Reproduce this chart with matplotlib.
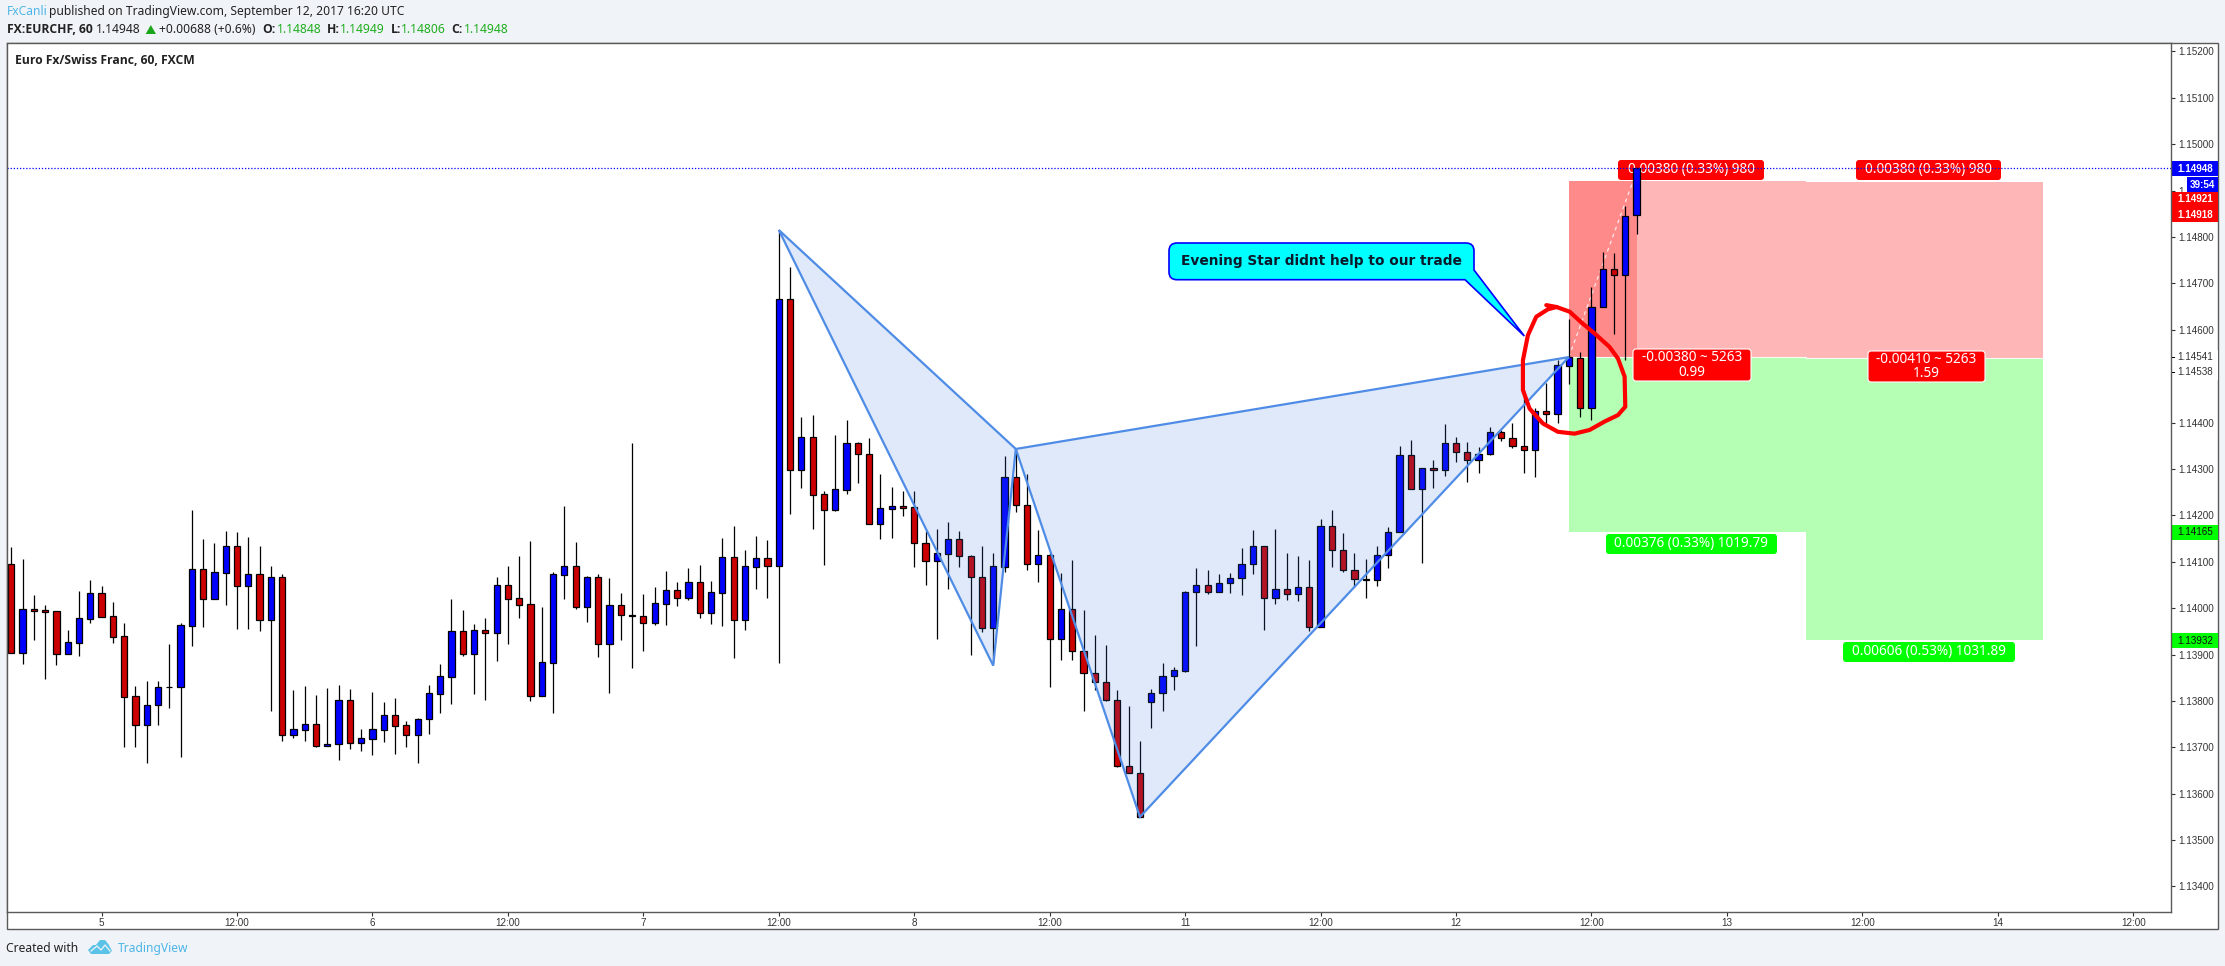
import numpy as np
import matplotlib
matplotlib.use("Agg")
import matplotlib.pyplot as plt
from matplotlib.patches import FancyBboxPatch, PathPatch, Polygon, Rectangle
from matplotlib.path import Path
from matplotlib.transforms import Affine2D

W, H = 2225, 966
POINT = 1e-5

opens = [114094,113904,113999,113995,113993,113902,113925,113977,114032,113982,
113939,113810,113749,113792,113831,113830,113962,114085,114020,114076,
114133,114048,114073,113975,114066,113727,113738,113751,113703,113708,
113801,113710,113718,113738,113769,113747,113727,113761,113815,113852,
113950,113902,113952,113947,114049,114021,114008,113811,113882,114072,
114090,114003,114068,113923,114006,113986,113984,113968,114009,114040,
114022,114057,113990,114033,114111,113975,114089,114109,114091,114667,
114298,114368,114245,114212,114255,114355,114333,114182,114214,114221,
114217,114141,114102,114117,114150,114113,114067,113958,114089,114282,
114223,114096,114114,113933,113997,113907,113861,113840,113801,113659,
113644,113797,113818,113853,113865,114034,114049,114034,114055,114064,
114094,114133,114021,114042,114030,114045,113960,114178,114126,114083,
114063,114061,114114,114165,114329,114257,114303,114298,114355,114337,
114320,114333,114379,114366,114350,114341,114424,114419,114522,114538,
114432,114648,114730,114719,114848]
highs = [114131,114106,114028,114006,113993,113953,114037,114060,114047,114013,
113967,113832,113843,113843,113922,113967,114211,114149,114140,114166,
114164,114153,114134,114091,114073,113823,113832,113812,113828,113834,
113825,113739,113819,113797,113806,113756,113764,113834,113879,114019,
113996,113966,113978,114067,114091,114112,114144,114002,114077,114220,
114142,114070,114073,114065,114032,114356,114030,114045,114080,114056,
114086,114093,114058,114151,114177,114125,114155,114147,114815,114735,
114412,114416,114252,114373,114405,114359,114366,114289,114261,114252,
114252,114166,114170,114185,114166,114114,114134,114119,114328,114340,
114288,114168,114119,114075,114103,113996,113942,113920,113823,113789,
113713,113825,113881,113872,114036,114086,114083,114073,114075,114129,
114168,114134,114170,114119,114112,114103,114192,114211,114162,114119,
114106,114134,114175,114349,114362,114303,114319,114397,114369,114358,
114347,114390,114384,114399,114470,114431,114485,114534,114623,114551,
114692,114767,114765,114866,114949]
lows = [113904,113879,113931,113847,113877,113902,113897,113968,113981,113925,
113701,113701,113666,113748,113784,113679,113918,113959,114020,114006,
113955,113955,113950,113778,113713,113720,113713,113700,113703,113672,
113696,113692,113683,113711,113685,113700,113666,113728,113774,113793,
113897,113815,113802,113886,113922,113978,113800,113811,113774,114019,
113998,113970,113894,113817,113931,113871,113907,113963,113963,114004,
114017,113978,113966,113961,113892,113953,114041,114022,113882,114203,
114259,114170,114093,114210,114246,114269,114182,114149,114151,114198,
114088,114050,113933,114041,114088,113899,113948,113881,114078,114208,
114083,114057,113830,113888,113888,113779,113823,113799,113657,113644,
113549,113741,113779,113823,113863,113918,114031,114034,114032,114028,
114073,113953,114009,114017,114015,113950,113960,114088,114078,114046,
114022,114047,114086,114165,114257,114097,114259,114284,114315,114272,
114291,114330,114360,114345,114291,114282,114399,114399,114483,114411,
114405,114648,114590,114534,114806]
closes = [113904,113999,113994,113992,113902,113926,113978,114032,113981,113938,
113809,113749,113792,113831,113831,113963,114085,114020,114077,114133,
114048,114073,113975,114066,113727,113739,113751,113703,113708,113801,
113710,113719,113739,113769,113746,113727,113762,113816,113853,113950,
113902,113952,113947,114049,114020,114007,113811,113883,114073,114090,
114003,114068,113923,114006,113986,113983,113968,114010,114040,114022,
114057,113990,114034,114111,113975,114090,114109,114091,114667,114298,
114368,114244,114212,114256,114355,114333,114182,114215,114221,114216,
114141,114102,114118,114150,114113,114067,113958,114090,114282,114223,
114096,114114,113933,113997,113907,113861,113840,113801,113659,113644,
113549,113818,113853,113866,114034,114049,114034,114055,114064,114094,
114133,114021,114042,114030,114045,113960,114178,114126,114083,114063,
114061,114114,114165,114329,114257,114303,114298,114355,114337,114320,
114333,114379,114366,114350,114341,114424,114419,114523,114542,114432,
114648,114730,114719,114846,114948]

time_tick_bars = [8, 20, 32, 44, 56, 68, 80, 92, 104, 116, 128, 140, 152, 164, 176, 188]
time_tick_labels = ["5", "12:00", "6", "12:00", "7", "12:00", "8", "12:00", "11", "12:00",
                    "12", "12:00", "13", "12:00", "14", "12:00"]
price_ticks = [1.134, 1.135, 1.136, 1.137, 1.138, 1.139, 1.140, 1.141, 1.142, 1.143, 1.144,
               1.146, 1.147, 1.148, 1.149, 1.150, 1.151, 1.152]

# harmonic pattern pivots: (bar, price in points)
pattern_bars = [68, 89, 87, 100, 138]
pattern_pts = [114815, 114343, 113876, 113550, 114541]

# position tools
pos_bars = [138, 159, 180]
left_stop, left_entry, left_target = 114921, 114541, 114165
right_stop, right_entry, right_target = 114918, 114538, 113932
last_bar, last_close = 144, 114948

# hand-drawn circle
circle_bars = [136.0,136.9,138.06,139.24,140.28,141.6,142.35,142.94,143.0,142.35,141.16,139.84,
               138.5,137.03,135.7,134.52,133.93,133.93,134.37,135.11,136.14,136.9]
circle_pts = [114653,114649,114639,114613,114592,114563,114538,114499,114434,114416,114402,114384,
              114376,114380,114398,114430,114470,114534,114588,114628,114644,114649]

to_price = lambda seq: np.array(seq, dtype=float) * POINT

GREY = "#5a5a5a"
BLUE = "#0000ff"
RED = "#cc0000"
SKY = "#4db6e8"
GREEN_TXT = "#1fae1f"
TXT = "#222222"
SANS = "Noto Sans"
BOLD = "Open Sans"
TICK = "Liberation Sans"

fig = plt.figure(figsize=(W / 100, H / 100), dpi=100, facecolor="#f0f3f7")
tr = Affine2D().scale(1, -1).translate(0, H)  # reference pixels, y downward

# outer frame
L, T, R, B = 7, 43, 2171, 912
fig.add_artist(Rectangle((L, T), 2218 - L, 929 - T, transform=tr, facecolor="white",
                         edgecolor=GREY, lw=1.0, zorder=-5))
ax = fig.add_axes([L / W, 1 - B / H, (R - L) / W, (B - T) / H], facecolor="white")
ax.set_xlim(-0.38, 191.35)
ax.set_ylim(1.13345, 1.15218)
for s in ["left", "top", "right", "bottom"]:
    ax.spines[s].set_color(GREY)
    ax.spines[s].set_linewidth(1.0)
ax.yaxis.tick_right()
ax.set_yticks(price_ticks)
ax.set_yticklabels([f"{p:.5f}" for p in price_ticks], fontfamily=TICK, fontsize=7.1, color="#333333")
ax.set_xticks(time_tick_bars)
ax.set_xticklabels(time_tick_labels, fontfamily=TICK, fontsize=7.1, color="#333333")
ax.tick_params(axis="y", length=3, width=0.8, color="#333333", pad=2.2)
ax.tick_params(axis="x", length=3, width=0.8, color="#333333", pad=1.5)

# position tool zones
pb = pos_bars
ax.add_patch(Rectangle((pb[0], left_entry * POINT), pb[1] - pb[0], (left_stop - left_entry) * POINT,
                       facecolor="#ffb6b6", edgecolor="none", zorder=1))
ax.add_patch(Rectangle((pb[1], right_entry * POINT), pb[2] - pb[1], (right_stop - right_entry) * POINT,
                       facecolor="#ffb6b6", edgecolor="none", zorder=1))
ax.add_patch(Rectangle((pb[0], left_target * POINT), pb[1] - pb[0], (left_entry - left_target) * POINT,
                       facecolor="#b5ffb5", edgecolor="none", zorder=1))
ax.add_patch(Rectangle((pb[1], right_target * POINT), pb[2] - pb[1], (right_entry - right_target) * POINT,
                       facecolor="#b5ffb5", edgecolor="none", zorder=1))
ax.add_patch(Rectangle((pb[0], left_entry * POINT), last_bar - pb[0], (left_stop - left_entry) * POINT,
                       facecolor="#ff8a8a", edgecolor="none", zorder=1.1))
ax.plot(pb[:2], to_price([left_entry, left_entry]), color="#f4fff4", lw=0.8, zorder=1.2)
ax.plot(pb[1:], to_price([right_entry, right_entry]), color="#f4fff4", lw=0.8, zorder=1.2)
ax.plot([pb[0], last_bar], to_price([left_entry, left_stop + 20]), color="white", lw=0.9,
        ls=(0, (3, 3)), alpha=0.8, zorder=1.2)


def label(x0, y0, x1, y1, text, face, edge="none", z=1.5, fs=9.8, tcolor="white"):
    ax.add_patch(FancyBboxPatch((x0, y0), x1 - x0, y1 - y0, boxstyle="round,pad=0,rounding_size=3",
                                transform=tr, facecolor=face, edgecolor=edge, lw=0.8,
                                clip_on=False, zorder=z))
    ax.text((x0 + x1) / 2, (y0 + y1) / 2, text, transform=tr, ha="center", va="center", color=tcolor,
            fontsize=fs, fontfamily=SANS, linespacing=0.95, clip_on=False, zorder=z + 0.01)


label(1618, 160, 1764, 180, "0.00380 (0.33%) 980", "#ff0000", z=1.5)
label(1856, 160, 2001, 180, "0.00380 (0.33%) 980", "#ff0000", z=1.5)
label(1633, 349, 1751, 381, "-0.00380 ~ 5263\n0.99", "#ff0000", edge="white", z=2.6)
label(1868, 351, 1985, 382, "-0.00410 ~ 5263\n1.59", "#ff0000", edge="white", z=2.6)
label(1606, 534, 1777, 554, "0.00376 (0.33%) 1019.79", "#00ff00", z=1.5)
label(1843, 642, 2015, 662, "0.00606 (0.53%) 1031.89", "#00ff00", z=1.5)

# candles
bars = np.arange(len(opens))
o, h, l, c = map(to_price, (opens, highs, lows, closes))
colors = [BLUE if ci >= oi else RED for oi, ci in zip(o, c)]
ax.vlines(bars, l, h, color="black", lw=0.9, zorder=2)
ax.bar(bars, np.abs(c - o), bottom=np.minimum(o, c), width=0.55, color=colors, edgecolor="black",
       linewidth=0.9, zorder=2.1)

# last price line
ax.axhline(last_close * POINT, color=BLUE, lw=0.9, ls=(0, (1, 1.5)), zorder=2.3)

# harmonic pattern
pbx = np.array(pattern_bars, float)
pby = to_price(pattern_pts)
for idx in ([0, 1, 2], [1, 3, 4]):
    ax.add_patch(Polygon(np.column_stack([pbx[idx], pby[idx]]), closed=True, facecolor="#3a7ae6",
                         alpha=0.16, edgecolor="none", zorder=3))
    ax.add_patch(Polygon(np.column_stack([pbx[idx], pby[idx]]), closed=True, facecolor="none",
                         edgecolor="#4f8ce6", lw=1.6, joinstyle="miter", zorder=3.1))

# circle
ax.plot(circle_bars, to_price(circle_pts), color="#ff0000", lw=3.0, solid_joinstyle="round",
        solid_capstyle="round", zorder=4)

# callout
C3, LT, MV, CL = Path.CURVE3, Path.LINETO, Path.MOVETO, Path.CLOSEPOLY
verts = [(1177, 243), (1466, 243), (1474, 243), (1474, 251), (1474, 270), (1524.3, 336), (1465, 279.7),
         (1177, 279.7), (1169, 279.7), (1169, 272), (1169, 251), (1169, 243), (1177, 243), (1177, 243)]
codes = [MV, LT, C3, C3, LT, LT, LT, LT, C3, C3, LT, C3, C3, CL]
ax.add_patch(PathPatch(Path(verts, codes), transform=tr, facecolor="#00ffff", edgecolor="#0000ff", lw=1.2,
                       clip_on=False, zorder=5))
ax.text(1321.5, 261, "Evening Star didnt help to our trade", transform=tr, ha="center", va="center",
        fontfamily="DejaVu Sans", fontweight="bold", fontsize=9.9, color="#0a1a2a", zorder=5.1)

# chart title
ax.text(15.3, 60.5, "Euro Fx/Swiss Franc, 60, FXCM", transform=tr, ha="left", va="center", fontfamily=BOLD,
        fontweight="bold", fontsize=8.7, color=TXT)


# price scale badges
def badge(x0, y0, x1, y1, face):
    ax.add_patch(Rectangle((x0, y0), x1 - x0, y1 - y0, transform=tr, facecolor=face, edgecolor="none",
                           clip_on=False, zorder=6))


def scale_text(y, text, color, weight="normal"):
    ax.text(2177.7, y, text, transform=tr, ha="left", va="center", fontfamily=TICK, fontsize=7.1,
            fontweight=weight, color=color, clip_on=False, zorder=6.1)


badge(2172, 161, 2218, 176, BLUE)
scale_text(168.5, "1.14948", "white", "bold")
badge(2186.5, 177, 2218, 192, BLUE)
ax.text(2202, 184.5, "39:54", transform=tr, ha="center", va="center", fontfamily=TICK, fontsize=7.1,
        fontweight="bold", color="white", clip_on=False, zorder=6.1)
badge(2172, 192, 2218, 222, "#ff0000")
scale_text(199.5, "1.14921", "white", "bold")
scale_text(214.7, "1.14918", "white", "bold")
badge(2171, 350, 2218, 380, "white")
scale_text(357.3, "1.14541", "#333333")
scale_text(372.3, "1.14538", "#333333")
for tick_y in (357.3, 372.3):
    ax.add_patch(Rectangle((2171, tick_y - 0.5), 4, 1, transform=tr, facecolor="black", edgecolor="none",
                           clip_on=False, zorder=6.1))
badge(2172, 525, 2218, 540, "#00ff00")
scale_text(532.3, "1.14165", "#111111")
badge(2172, 633, 2218, 648, "#00ff00")
scale_text(640.5, "1.13932", "#111111")
ax.spines["right"].set_zorder(7)


# header and footer, placed in reference pixels
def put(x, y, s, color=TXT, weight="normal", fs=8.7):
    fig.text(x, y, s, transform=tr, ha="left", va="center", fontfamily=BOLD if weight == "bold" else SANS,
             fontsize=fs, fontweight=weight, color=color)


put(6.7, 11.5, "FxCanli", SKY)
put(49, 11.5, "published on TradingView.com, September 12, 2017 16:20 UTC")
put(6.7, 29.5, "FX:EURCHF, 60", weight="bold")
put(96.3, 29.5, "1.14948")
fig.add_artist(Polygon([(145.7, 34), (156, 34), (150.8, 25)], transform=tr, facecolor="#1aa51a", edgecolor="none"))
put(159, 29.5, "+0.00688 (+0.6%)")
for xk, k, xv, v in [(262.7, "O:", 276.7, "1.14848"), (326.7, "H:", 340, "1.14949"),
                     (390.7, "L:", 401.3, "1.14806"), (451.3, "C:", 464, "1.14948")]:
    put(xk, 29.5, k, weight="bold")
    put(xv, 29.5, v, GREEN_TXT)
put(6.3, 948.5, "Created with")
put(118, 948.5, "TradingView", SKY)
fig.add_artist(Polygon([(88, 950), (93, 945), (96, 945), (100, 940), (105, 940), (109, 945), (112, 951),
                        (109, 954), (91, 954)], transform=tr, facecolor="#5cc3e8", edgecolor="none"))
fig.add_artist(plt.Line2D([91, 97, 101, 105, 110], [951, 946, 950, 945, 951], transform=tr, color="#f0f3f7", lw=0.9))

fig.savefig("out.png", dpi=100, facecolor=fig.get_facecolor())
